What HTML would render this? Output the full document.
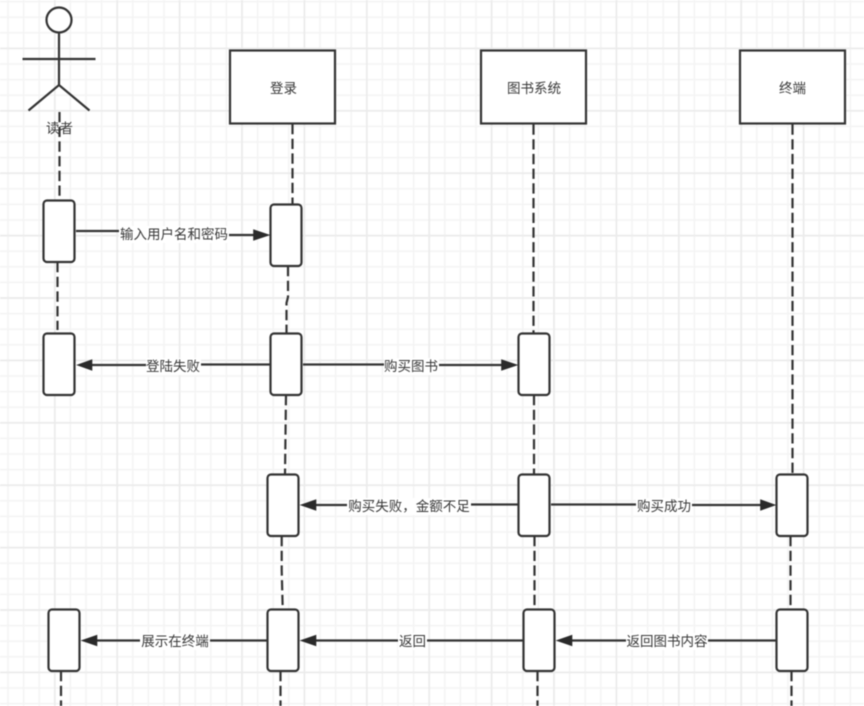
<!DOCTYPE html>
<html><head><meta charset="utf-8">
<style>
html,body{margin:0;padding:0;background:#fff;width:864px;height:706px;overflow:hidden}
svg{display:block;filter:blur(0.4px)}
text{font-family:"Liberation Sans","Noto Sans CJK SC",sans-serif;font-size:13.5px;fill:#383838;text-anchor:middle}
.box{fill:#fff;stroke:#333;stroke-width:2.2}
.dash{fill:none;stroke:#333;stroke-width:2.2;stroke-dasharray:10.3 4.4}
.ln{fill:none;stroke:#333;stroke-width:2.2}
.head{fill:#2a2a2a;stroke:#2a2a2a;stroke-width:.6}
.bg{fill:#fff}
</style></head><body>
<svg width="864" height="706" viewBox="0 0 864 706" xmlns="http://www.w3.org/2000/svg">
<defs>
<pattern id="gm" width="15.6" height="15.6" patternUnits="userSpaceOnUse" x="7.2" y="0.8">
<path d="M0.8 0V15.6M0 0.8H15.6" fill="none" stroke="#f4f4f4" stroke-width="1.6"/>
</pattern>
<pattern id="gM" width="62.4" height="62.4" patternUnits="userSpaceOnUse" x="54" y="47.6">
<path d="M0.8 0V62.4M0 0.8H62.4" fill="none" stroke="#ebebeb" stroke-width="1.6"/>
</pattern>
</defs>
<rect width="864" height="706" fill="#fff"/>
<rect width="864" height="706" fill="url(#gm)"/>
<rect width="864" height="706" fill="url(#gM)"/>

<!-- lifelines -->
<path class="dash" d="M59.5 112V196"/>
<path class="dash" d="M57.5 262V330"/>
<path class="dash" d="M61 671V706"/>
<path class="dash" d="M292.5 124V204"/>
<path class="dash" d="M288 266V297L286.5 303V333"/>
<path class="dash" d="M286 395L285 474"/>
<path class="dash" d="M281.7 536V570L282.7 609"/>
<path class="dash" d="M280.5 671V706"/>
<path class="dash" d="M533.5 124.5V333"/>
<path class="dash" d="M534 395V474"/>
<path class="dash" d="M534.5 536V609"/>
<path class="dash" d="M537.5 671V706"/>
<path class="dash" d="M792.5 124.5V474"/>
<path class="dash" d="M790.5 536V609"/>
<path class="dash" d="M791.5 671V706"/>

<!-- actor -->
<circle cx="59" cy="20" r="12.5" fill="#fff" stroke="#333" stroke-width="2.2"/>
<path class="ln" d="M59 33V85M22.5 59H95.5M28.5 110.5L59 85L89.5 110.5"/>
<text x="59.5" y="133">读者</text>

<!-- header boxes -->
<rect class="box" x="230" y="50.5" width="105" height="73"/>
<text x="283.5" y="93">登录</text>
<rect class="box" x="481" y="50.5" width="105" height="73"/>
<text x="534" y="93">图书系统</text>
<rect class="box" x="740" y="50.5" width="105" height="73"/>
<text x="792.5" y="93">终端</text>

<!-- activation boxes -->
<rect class="box" x="43.5" y="200.5" width="31" height="61.5" rx="3.5"/>
<rect class="box" x="270.5" y="204.5" width="31" height="61.5" rx="3.5"/>
<rect class="box" x="43.5" y="333.5" width="31" height="61.5" rx="3.5"/>
<rect class="box" x="270.5" y="333.5" width="31" height="61.5" rx="3.5"/>
<rect class="box" x="518.5" y="333.5" width="31" height="61.5" rx="3.5"/>
<rect class="box" x="267.5" y="474.5" width="31" height="61.5" rx="3.5"/>
<rect class="box" x="518.5" y="474.5" width="31" height="61.5" rx="3.5"/>
<rect class="box" x="776.5" y="474.5" width="31" height="61.5" rx="3.5"/>
<rect class="box" x="48.5" y="609.5" width="31" height="61.5" rx="3.5"/>
<rect class="box" x="267.5" y="609.5" width="31" height="61.5" rx="3.5"/>
<rect class="box" x="523.5" y="609.5" width="31" height="61.5" rx="3.5"/>
<rect class="box" x="776.5" y="609.5" width="31" height="61.5" rx="3.5"/>

<!-- connectors -->
<path class="ln" d="M76 231H173V235H256"/>
<path class="head" d="M269.5 235L253.5 229.7V240.3Z"/>
<rect class="bg" x="119" y="226" width="110" height="17"/>
<text x="174" y="239">输入用户名和密码</text>

<path class="ln" d="M270 364.5H173V365H90"/>
<path class="head" d="M77 365L92 359.7V370.3Z"/>
<rect class="bg" x="146" y="358" width="55" height="17"/>
<text x="173" y="371">登陆失败</text>

<path class="ln" d="M303 364.5H410V365H505"/>
<path class="head" d="M517.5 365L501.5 359.7V370.3Z"/>
<rect class="bg" x="384" y="358" width="55" height="17"/>
<text x="411" y="371">购买图书</text>

<path class="ln" d="M518 504.5H409V505H314"/>
<path class="head" d="M300.5 505L316 499.7V510.3Z"/>
<rect class="bg" x="347" y="498" width="124" height="17"/>
<text x="409" y="511">购买失败，金额不足</text>

<path class="ln" d="M551 504.5H664V505H762"/>
<path class="head" d="M775.5 505L760.5 499.7V510.3Z"/>
<rect class="bg" x="636" y="498" width="56" height="17"/>
<text x="664" y="511">购买成功</text>

<path class="ln" d="M776 640.5H570"/>
<path class="head" d="M556.5 640.5L572 635.2V645.8Z"/>
<rect class="bg" x="626" y="633" width="82" height="17"/>
<text x="667" y="646">返回图书内容</text>

<path class="ln" d="M523 640.5H314"/>
<path class="head" d="M300.5 640.5L316 635.2V645.8Z"/>
<rect class="bg" x="398" y="633" width="29" height="17"/>
<text x="412.5" y="646">返回</text>

<path class="ln" d="M267 640.5H95"/>
<path class="head" d="M81.5 640.5L97 635.2V645.8Z"/>
<rect class="bg" x="140" y="633" width="70" height="17"/>
<text x="175" y="646">展示在终端</text>
</svg>
</body></html>
